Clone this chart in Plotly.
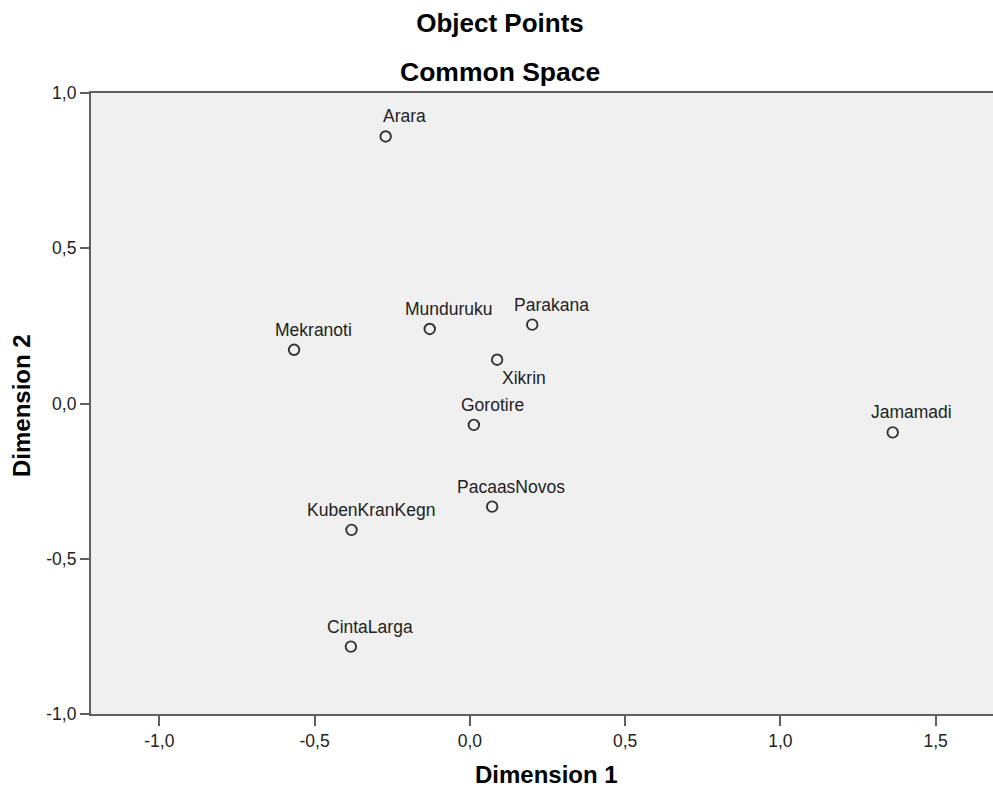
import plotly.graph_objects as go

# ---- data ----
names = ["Arara", "Mekranoti", "Munduruku", "Parakana", "Xikrin", "Gorotire",
         "Jamamadi", "PacaasNovos", "KubenKranKegn", "CintaLarga"]
dim1 = [-0.271, -0.566, -0.129, 0.201, 0.088, 0.013, 1.362, 0.072, -0.381, -0.383]
dim2 = [0.860, 0.173, 0.240, 0.254, 0.141, -0.069, -0.093, -0.332, -0.407, -0.783]

x_tickvals = [-1.0, -0.5, 0.0, 0.5, 1.0, 1.5]
x_ticktext = ["-1,0", "-0,5", "0,0", "0,5", "1,0", "1,5"]
y_tickvals = [-1.0, -0.5, 0.0, 0.5, 1.0]
y_ticktext = ["-1,0", "-0,5", "0,0", "0,5", "1,0"]

# ---- figure ----
W, H = 993, 787
ML, MR, MT, MB = 91, 0, 93, 73
FONT = "Liberation Sans, Arial, sans-serif"
AXC = "#5f5f5f"
plot_w = W - ML - MR

fig = go.Figure()
fig.add_trace(go.Scatter(
    x=dim1, y=dim2, mode="markers",
    marker=dict(symbol="circle-open", size=10.5, color="#333333",
                line=dict(width=1.9, color="#333333")),
    hoverinfo="text", hovertext=names, showlegend=False,
))

below = {"Xikrin"}
for n, xv, yv in zip(names, dim1, dim2):
    if n in below:
        fig.add_annotation(x=xv, y=yv, text=n, showarrow=False,
                           xanchor="center", yanchor="middle",
                           xshift=27, yshift=-18,
                           font=dict(family=FONT, size=17.5, color="#222222"))
    else:
        fig.add_annotation(x=xv, y=yv, text=n, showarrow=False,
                           xanchor="center", yanchor="middle",
                           xshift=19, yshift=20,
                           font=dict(family=FONT, size=17.5, color="#222222"))

# second title line
fig.add_annotation(xref="paper", yref="paper",
                   x=(499.5 - ML) / plot_w, y=1, yanchor="middle", yshift=21,
                   text="Common Space", showarrow=False,
                   font=dict(family=FONT, size=26.5, color="#000000", weight="bold"))
# axis titles
fig.add_annotation(xref="paper", yref="paper",
                   x=(546.5 - ML) / plot_w, y=0, xanchor="center", yanchor="middle",
                   yshift=-60.5, text="Dimension 1", showarrow=False,
                   font=dict(family=FONT, size=24, color="#000000", weight="bold"))
fig.add_annotation(xref="paper", yref="paper",
                   x=0, y=0.5, xanchor="center", yanchor="middle",
                   xshift=-70, yshift=-2.5, textangle=-90,
                   text="Dimension 2", showarrow=False,
                   font=dict(family=FONT, size=24, color="#000000", weight="bold"))

fig.update_layout(
    width=W, height=H,
    margin=dict(l=ML, r=MR, t=MT, b=MB, pad=0, autoexpand=False),
    paper_bgcolor="#ffffff", plot_bgcolor="#f0f0f0",
    title=dict(text="Object Points", x=500 / W, xref="container", xanchor="center",
               y=1 - 22.5 / H, yref="container", yanchor="middle",
               font=dict(family=FONT, size=26, color="#000000", weight="bold")),
    font=dict(family=FONT, color="#222222"),
    xaxis=dict(range=[-1.22, 1.685], tickvals=x_tickvals, ticktext=x_ticktext,
               showgrid=False, zeroline=False, automargin=False,
               showline=True, linecolor=AXC, linewidth=2.2, mirror=True,
               ticks="outside", ticklen=10, tickwidth=2, tickcolor=AXC,
               tickfont=dict(family=FONT, size=17.5, color="#222222")),
    yaxis=dict(range=[-1.0, 1.0], tickvals=y_tickvals, ticktext=y_ticktext,
               showgrid=False, zeroline=False, automargin=False,
               showline=True, linecolor=AXC, linewidth=2.2,
               ticks="outside", ticklen=9, tickwidth=2, tickcolor=AXC,
               tickfont=dict(family=FONT, size=17.5, color="#222222")),
)

# remove the browser's default 8px page margin so the figure fills the window
fig.write_html("out.html",
               config={"displayModeBar": False},
               post_script="document.body.style.margin='0';document.body.style.overflow='hidden';")
